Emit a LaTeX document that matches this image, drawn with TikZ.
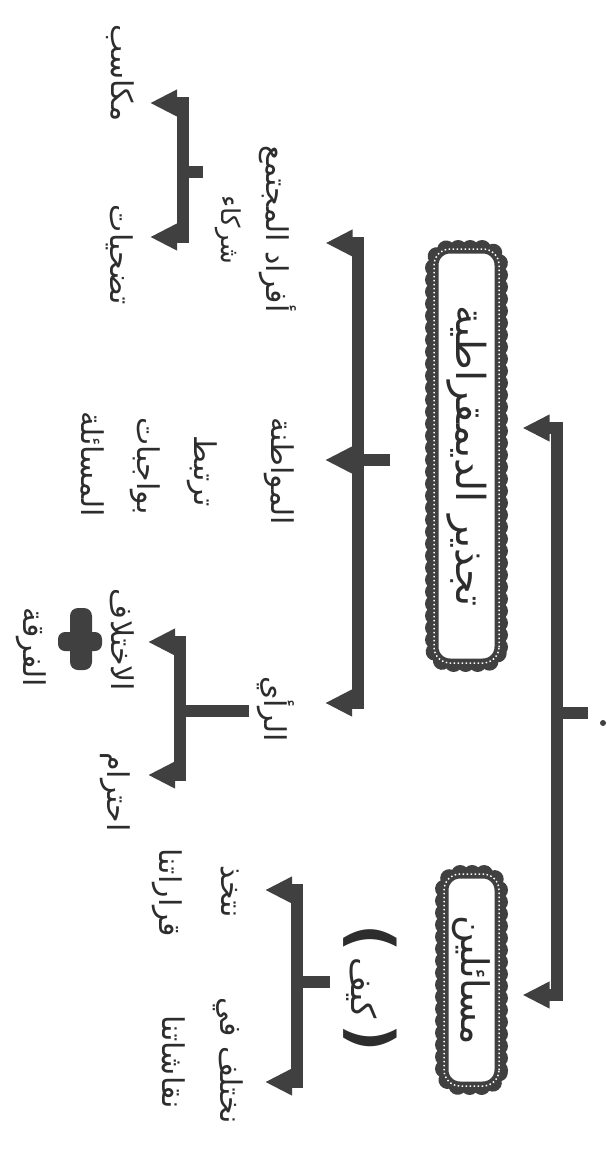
\documentclass[tikz,border=0pt]{standalone}
\usepackage{fontspec}
\newfontfamily\arabicfont[Script=Arabic]{DejaVu Sans}
\TeXXeTstate=1
\usetikzlibrary{arrows.meta,calc,decorations.markings}
\definecolor{dark}{RGB}{64,64,64}
\definecolor{txt}{RGB}{45,45,45}
\tikzset{
  ar/.style={rotate=-90, inner sep=0pt, outer sep=0pt, text=txt, font=\arabicfont\fontsize{#1}{#1}\selectfont},
  ar/.default=30,
  framebox/.style={rotate=-90, rectangle, rounded corners=16pt, draw=dark, line width=9pt, fill=white,
    inner sep=0pt, outer sep=0pt, text=txt,
    preaction={decorate, decoration={markings, mark=between positions 0 and 1 step 12pt with {\fill[dark] (0,0) circle (9pt);}}},
    postaction={draw=white, line width=1.5pt, dash pattern=on 1.5pt off 2.5pt}},
  bar/.style={draw=dark, line width=12pt}
}
\begin{document}
\begin{tikzpicture}[x=1pt,y=-1pt, >={Triangle[width=25pt,length=27pt]}]
\useasboundingbox (0,0) rectangle (607,1160);
% boxes
\node[framebox, minimum width=414pt, minimum height=65pt, font=\arabicfont\fontsize{40}{40}\selectfont] (bigbox) at (466.5,456) {\beginR تجذير الديمقراطية\endR};
\node[framebox, minimum width=212pt, minimum height=55pt, font=\arabicfont\fontsize{38}{38}\selectfont] (smallbox) at (471.5,980) {\beginR مسائلين\endR};
% labels
\node[ar] (afrad) at (277.5,229) {\beginR أفراد المجتمع\endR};
\node[ar=26] (shuraka) at (228,230) {\beginR شركاء\endR};
\node[ar] (makasib) at (120,73) {\beginR مكاسب\endR};
\node[ar] (tadhiyat) at (120,255) {\beginR تضحيات\endR};
\node[ar] (muwatana) at (279,471) {\beginR المواطنة\endR};
\node[ar] (tartabit) at (202,471) {\beginR ترتبط\endR};
\node[ar] (biwajibat) at (145,466) {\beginR بواجبات\endR};
\node[ar] (masaala) at (93,464) {\beginR المسائلة\endR};
\node[ar] (ray) at (276,709) {\beginR الرأي\endR};
\node[ar] (ikh) at (122,640) {\beginR الاختلاف\endR};
\node[ar] (firqa) at (31,647) {\beginR الفرقة\endR};
\node[ar] (ihtiram) at (115,792) {\beginR احترام\endR};
\node[ar=34] (kayf) at (370,988) {\beginR{\fontsize{60}{60}\bfseries(}\,كيف\,{\fontsize{60}{60}\bfseries)}\endR};
\node[ar] (natakhidh) at (230,892) {\beginR نتخذ\endR};
\node[ar] (qararatuna) at (167,893) {\beginR قراراتنا\endR};
\node[ar] (nakhtalif) at (228,1061) {\beginR نختلف في\endR};
\node[ar] (niqashatuna) at (174,1062) {\beginR نقاشاتنا\endR};
% cross shape
\fill[dark, rounded corners=8pt] (70,608) rectangle (92,670);
\fill[dark, rounded corners=7pt] (58,632) rectangle (102,651);
% dot at right edge
\fill[dark] (603,723) circle (3pt);
% main bracket
\coordinate (m1) at (556.5,428);
\coordinate (m2) at (556.5,995);
\coordinate (mj) at (556.5,713);
\coordinate (mq) at (588,713);
\draw[bar] (mj) -- (mq);
\draw[bar,<->] ($(m1 -| bigbox.north)+(23.5,0)$) -- (m1) -- (m2) -- ($(m2 -| smallbox.north)+(23.5,0)$);
% middle bracket
\coordinate (c1) at (357.5,243);
\coordinate (c2) at (357.5,460);
\coordinate (c3) at (357.5,703);
\draw[bar] (c2) -- ($(c2 -| bigbox.south)+(-44,0)$);
\draw[bar,<->] ($(c1 -| afrad.center)+(48,0)$) -- (c1) -- (c3) -- ($(c3 -| ray.center)+(49,0)$);
\draw[bar,->] (c2) -- ($(c2 -| muwatana.center)+(46,0)$);
% ray bracket
\coordinate (d1) at (180,642);
\coordinate (d3) at (180,775);
\coordinate (dj) at (180,711);
\draw[bar] (dj) -- ($(dj -| ray.center)+(-27,0)$);
\draw[bar,<->] ($(d1 -| ikh.center)+(26,0)$) -- (d1) -- (d3) -- ($(d3 -| ihtiram.center)+(33,0)$);
% afrad bracket
\coordinate (e1) at (182.5,103);
\coordinate (e3) at (182.5,237);
\coordinate (ej) at (182.5,172);
\draw[bar] (ej) -- ($(ej -| afrad.center)+(-74.5,0)$);
\draw[bar,<->] ($(e1 -| makasib.center)+(30,0)$) -- (e1) -- (e3) -- ($(e3 -| tadhiyat.center)+(30,0)$);
% kayf bracket
\coordinate (k1) at (296.5,890);
\coordinate (k3) at (296.5,1082);
\coordinate (kj) at (296.5,982);
\draw[bar] (kj) -- ($(kj -| kayf.center)+(-40,0)$);
\draw[bar,<->] ($(k1 -| natakhidh.center)+(35,0)$) -- (k1) -- (k3) -- ($(k3 -| nakhtalif.center)+(37,0)$);
\end{tikzpicture}
\end{document}
